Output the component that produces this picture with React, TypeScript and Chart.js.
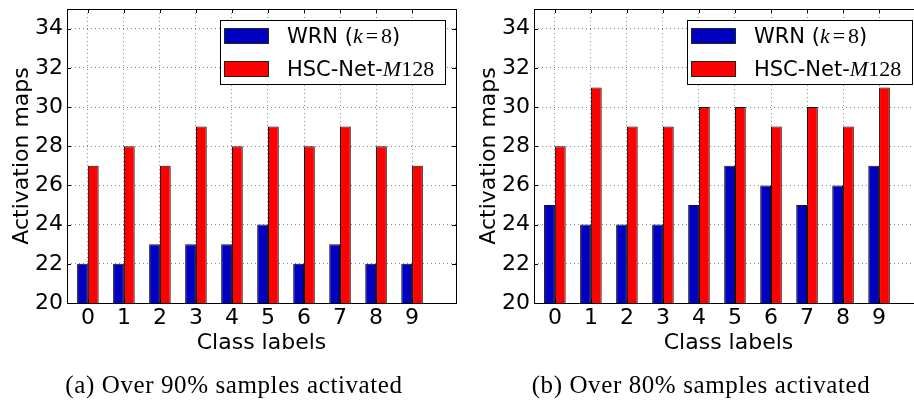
import React, { useEffect, useRef } from 'react';
import { Chart, registerables } from 'chart.js';

Chart.register(...registerables);

// ---- data ----
const CLASS_LABELS = [0, 1, 2, 3, 4, 5, 6, 7, 8, 9];
const WRN_90 = [22, 22, 23, 23, 23, 24, 22, 23, 22, 22];
const HSC_90 = [27, 28, 27, 29, 28, 29, 28, 29, 28, 27];
const WRN_80 = [25, 24, 24, 24, 25, 27, 26, 25, 26, 27];
const HSC_80 = [28, 31, 29, 29, 30, 30, 29, 30, 29, 31];
const Y_TICKS = [20, 22, 24, 26, 28, 30, 32, 34];
const Y_MIN = 20;
const Y_MAX = 35;
const X_MIN = -0.58;
const X_MAX = 10.22;
const SERIES_NAMES = ['WRN ($k=8$)', 'HSC-Net-$M128$'];
const CAPTIONS = ['(a) Over 90% samples activated', '(b) Over 80% samples activated'];
const X_TITLE = 'Class labels';
const Y_TITLE = 'Activation maps';

// ---- styles ----
const BLUE = '#0000c0';
const RED = '#ff0000';
const SANS = '"DejaVu Sans", sans-serif';
const SERIF = '"Liberation Serif", serif';
const FONT_SIZE = 22;
const LEGEND_SIZE = 21;
const MATH_SIZE = 22;

type Seg = { text: string; font: string; pad: number };

function segments(label: string): Seg[] {
  const out: Seg[] = [];
  label.split('$').forEach((chunk, i) => {
    if (!chunk) return;
    if (i % 2 === 0) {
      out.push({ text: chunk, font: `${LEGEND_SIZE}px ${SANS}`, pad: 0 });
    } else {
      for (const ch of chunk) {
        if (/[A-Za-z]/.test(ch)) out.push({ text: ch, font: `italic ${MATH_SIZE}px ${SERIF}`, pad: 0 });
        else if (ch === '=') out.push({ text: ch, font: `${MATH_SIZE}px ${SERIF}`, pad: 3 });
        else out.push({ text: ch, font: `${MATH_SIZE}px ${SERIF}`, pad: 0 });
      }
    }
  });
  return out;
}

const framePlugin = {
  id: 'frameAndLegend',
  afterDraw(chart: any) {
    const { ctx, chartArea } = chart;
    const { left, right, top, bottom } = chartArea;
    const xs = chart.scales.x;
    const ys = chart.scales.y;
    ctx.save();
    // inward tick marks
    ctx.strokeStyle = '#000';
    ctx.lineWidth = 1;
    ctx.beginPath();
    xs.ticks.forEach((t: any) => {
      const p = Math.round(xs.getPixelForValue(t.value)) + 0.5;
      ctx.moveTo(p, bottom);
      ctx.lineTo(p, bottom - 4);
      ctx.moveTo(p, top);
      ctx.lineTo(p, top + 4);
    });
    ys.ticks.forEach((t: any) => {
      const p = Math.round(ys.getPixelForValue(t.value)) + 0.5;
      ctx.moveTo(left, p);
      ctx.lineTo(left + 4, p);
      ctx.moveTo(right, p);
      ctx.lineTo(right - 4, p);
    });
    ctx.stroke();
    // frame
    ctx.strokeRect(Math.round(left) + 0.5, Math.round(top) + 0.5, Math.round(right - left), Math.round(bottom - top));

    // legend
    const w = 225;
    const h = 64;
    const x0 = Math.round(right - 11 - w);
    const y0 = Math.round(top + 11);
    ctx.fillStyle = '#fff';
    ctx.fillRect(x0, y0, w, h);
    ctx.strokeStyle = '#000';
    ctx.strokeRect(x0 + 0.5, y0 + 0.5, w, h);
    chart.data.datasets.forEach((ds: any, i: number) => {
      const cy = y0 + 15.5 + i * 32.5;
      ctx.fillStyle = ds.backgroundColor;
      ctx.fillRect(x0 + 4, Math.round(cy - 7.5), 44, 15);
      ctx.strokeStyle = '#222';
      ctx.strokeRect(x0 + 4.5, Math.round(cy - 7.5) + 0.5, 44, 15);
      let x = x0 + 67;
      ctx.fillStyle = '#000';
      ctx.textBaseline = 'alphabetic';
      ctx.textAlign = 'left';
      for (const s of segments(ds.label)) {
        ctx.font = s.font;
        x += s.pad;
        ctx.fillText(s.text, x, cy + 7.5);
        x += ctx.measureText(s.text).width + s.pad;
      }
    });
    ctx.restore();
  },
};

function Panel({ wrn, hsc, caption, left }: { wrn: number[]; hsc: number[]; caption: string; left: number }) {
  const ref = useRef<HTMLCanvasElement>(null);
  useEffect(() => {
    const tickFont = { family: SANS, size: FONT_SIZE };
    const chart = new Chart(ref.current as HTMLCanvasElement, {
      type: 'bar',
      data: {
        datasets: [
          {
            label: SERIES_NAMES[0],
            data: CLASS_LABELS.map((c, i) => ({ x: c, y: wrn[i] })),
            backgroundColor: BLUE,
            borderColor: '#111',
            borderWidth: 1,
            categoryPercentage: 0.6,
            barPercentage: 1,
          },
          {
            label: SERIES_NAMES[1],
            data: CLASS_LABELS.map((c, i) => ({ x: c, y: hsc[i] })),
            backgroundColor: RED,
            borderColor: '#111',
            borderWidth: 1,
            categoryPercentage: 0.6,
            barPercentage: 1,
          },
        ],
      } as any,
      options: {
        animation: false,
        responsive: false,
        devicePixelRatio: 1,
        events: [],
        layout: { padding: { left: 0, top: 9, right: 4, bottom: 41 } },
        plugins: { legend: { display: false }, tooltip: { enabled: false } },
        scales: {
          x: {
            type: 'linear',
            min: X_MIN,
            max: X_MAX,
            offset: false,
            afterBuildTicks: (s: any) => {
              s.ticks = CLASS_LABELS.map((v) => ({ value: v }));
            },
            afterFit: (s: any) => {
              s.height = 60;
              s.paddingLeft = 0;
              s.paddingRight = 0;
            },
            grid: { color: '#8a8a8a', lineWidth: 1, drawTicks: false, offset: false },
            border: { display: false, dash: [1, 3] },
            ticks: { font: tickFont, color: '#000', padding: 2, maxRotation: 0, autoSkip: false, callback: (v: any) => String(v) },
            title: { display: true, text: X_TITLE, font: tickFont, color: '#000', padding: { top: 0, bottom: 7 } },
          },
          y: {
            min: Y_MIN,
            max: Y_MAX,
            afterBuildTicks: (s: any) => {
              s.ticks = Y_TICKS.map((v) => ({ value: v }));
            },
            afterFit: (s: any) => {
              s.width = 67;
              s.paddingTop = 0;
              s.paddingBottom = 0;
            },
            grid: { color: '#8a8a8a', lineWidth: 1, drawTicks: false },
            border: { display: false, dash: [1, 3] },
            ticks: { font: tickFont, color: '#000', padding: 4 },
            title: { display: true, text: Y_TITLE, font: tickFont, color: '#000', padding: { top: 9, bottom: 0 } },
          },
        },
      } as any,
      plugins: [framePlugin],
    });
    return () => chart.destroy();
  }, [wrn, hsc]);
  return (
    <div style={{ position: 'absolute', left, top: 0, width: 460, height: 404 }}>
      <canvas ref={ref} width={460} height={404} style={{ width: 460, height: 404, display: 'block' }} />
      <div
        style={{
          position: 'absolute',
          left: 34,
          top: 372,
          width: 400,
          textAlign: 'center',
          fontFamily: SERIF,
          fontSize: 25,
          lineHeight: '25px',
          letterSpacing: '0.6px',
          color: '#000',
          whiteSpace: 'nowrap',
        }}
      >
        {caption}
      </div>
    </div>
  );
}

export default function App() {
  return (
    <div
      style={{
        position: 'fixed',
        left: 0,
        top: 0,
        width: 914,
        height: 404,
        overflow: 'hidden',
        background: '#fff',
      }}
    >
      <Panel wrn={WRN_90} hsc={HSC_90} caption={CAPTIONS[0]} left={0} />
      <Panel wrn={WRN_80} hsc={HSC_80} caption={CAPTIONS[1]} left={467} />
    </div>
  );
}
